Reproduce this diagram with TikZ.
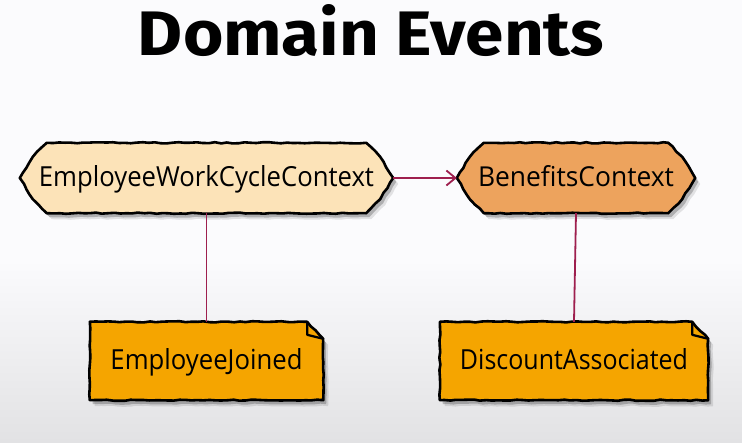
\documentclass[tikz,border=0pt]{standalone}
\usepackage{fontspec}
\setmainfont{Open Sans}
\newfontfamily\titlefont{Fira Sans}
\usetikzlibrary{shadows,decorations.pathmorphing,arrows.meta,calc}
\definecolor{ctxlight}{HTML}{FCE3B8}
\definecolor{ctxdark}{HTML}{EDA35D}
\definecolor{evtfill}{HTML}{F5A500}
\definecolor{connred}{HTML}{9E1F4E}
\definecolor{bgtop}{HTML}{FBFBFD}
\definecolor{bgbot}{HTML}{E2E2E4}
\pgfdeclarelayer{back}
\pgfdeclarelayer{shapes}
\pgfsetlayers{back,shapes,main}
\tikzset{
  holder/.style={draw=none, inner sep=0pt, text height=21pt, text depth=4pt, align=center},
  sketch/.style={draw=black, line width=2.6pt, line join=round,
    decorate, decoration={random steps, segment length=6pt, amplitude=0.6pt},
    preaction={fill=black, opacity=0.10, transform canvas={shift={(5pt,-6pt)}}},
    drop shadow={shadow xshift=3pt, shadow yshift=-4pt, opacity=0.22, fill=black}},
  conn/.style={draw=connred, line width=1.8pt}
}
\newcommand\fitw[2]{\resizebox{#1}{21pt}{#2}}
\begin{document}
\begin{tikzpicture}[x=1pt,y=-1pt]
\pgfmathsetseed{7}
\begin{pgfonlayer}{back}
\fill[bgtop] (0,0) rectangle (742,442);
\shade[top color=bgtop, bottom color=bgbot] (0,260) rectangle (742,442);
\end{pgfonlayer}
\useasboundingbox (0,0) rectangle (742,442);

\node[anchor=base, inner sep=0pt] (title) at (371,55)
  {\resizebox{466pt}{51pt}{\titlefont\bfseries Domain Events}};

\node[holder, minimum width=373pt, minimum height=70pt] (c1) at (206.5,178)
  {\fitw{335pt}{EmployeeWorkCycleContext}};
\node[holder, minimum width=238pt, minimum height=70pt] (c2) at (576,178)
  {\fitw{196pt}{BenefitsContext}};
\node[holder, minimum width=233pt, minimum height=78pt] (n1) at (206.5,361)
  {\fitw{192pt}{EmployeeJoined}};
\node[holder, minimum width=268pt, minimum height=78pt] (n2) at (574,361)
  {\fitw{228pt}{DiscountAssociated}};

\begin{pgfonlayer}{shapes}
\foreach \n/\col in {c1/ctxlight, c2/ctxdark}{
  \draw[sketch, fill=\col] (\n.west) -- ($(\n.north west)+(13,14)$) -- ($(\n.north west)+(27,0)$)
    -- ($(\n.north east)+(-27,0)$) -- ($(\n.north east)+(-13,14)$) -- (\n.east)
    -- ($(\n.south east)+(-13,-14)$) -- ($(\n.south east)+(-27,0)$)
    -- ($(\n.south west)+(27,0)$) -- ($(\n.south west)+(13,-14)$) -- cycle;
}
\foreach \n in {n1,n2}{
  \draw[sketch, fill=evtfill] (\n.north west) -- ($(\n.north east)+(-16,0)$) -- ($(\n.north east)+(0,17)$)
    -- (\n.south east) -- (\n.south west) -- cycle;
  \draw[line width=2.2pt, line join=round] ($(\n.north east)+(-16,0)$) -- ($(\n.north east)+(-16,13)$) -- ($(\n.north east)+(0,17)$);
}
\end{pgfonlayer}

\draw[conn] (c1.south) -- (n1.north);
\draw[conn] (c2.south) -- (n2.north);
\draw[conn, -{Straight Barb[length=9pt, width=15pt, line width=1.8pt]}] (c1.east) -- (c2.west);
\end{tikzpicture}
\end{document}
